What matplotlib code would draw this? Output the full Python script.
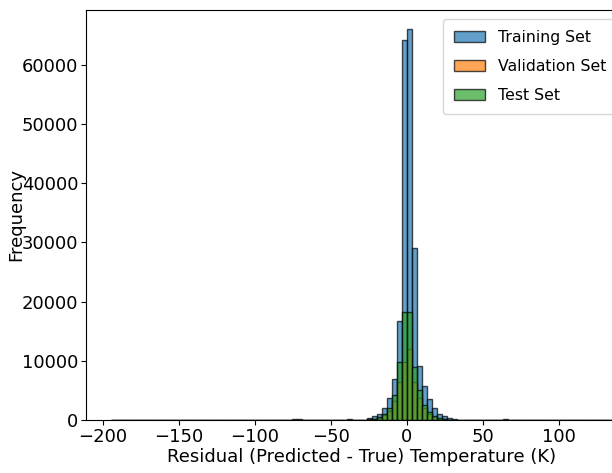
import numpy as np
import matplotlib
matplotlib.use("Agg")
from matplotlib import pyplot as plt

plt.rcParams['font.family'] = ['DejaVu Sans']

# histogram bins (100 bins spanning the residual range)
bin_edges = np.linspace(-194.5, 135.5, 101)
zero_bin = 59  # bin holding 0.2 .. 3.5 K

# counts of the central bins, offsets relative to zero_bin
core_offsets = np.arange(-8, 9)
train_core = [300, 600, 1100, 2000, 3800, 7000, 16700, 64300, 66000,
              29000, 9200, 5800, 3600, 2000, 1100, 600, 300]
val_core = [80, 200, 400, 800, 1600, 3200, 6500, 9800, 12000,
            6500, 3800, 2000, 1000, 500, 250, 120, 60]
test_core = [100, 250, 500, 1000, 2000, 4200, 9800, 18300, 18300,
             9000, 5000, 2600, 1400, 700, 350, 180, 80]

# a few sparse outliers in the tails (residual K, count)
tail_x = [-190, -75, -70, -61, -55, -45, -38, 30, 38, 65, 120]
train_tail = [20, 90, 110, 70, 60, 80, 120, 150, 60, 90, 20]
val_tail = [0, 20, 20, 10, 10, 20, 30, 40, 10, 20, 0]
test_tail = [0, 20, 30, 10, 10, 20, 30, 40, 20, 20, 0]

x_ticks = [-200, -150, -100, -50, 0, 50, 100]


def full_counts(core, tail):
    counts = np.zeros(len(bin_edges) - 1)
    counts[zero_bin + core_offsets] = core
    idx = np.digitize(tail_x, bin_edges) - 1
    np.add.at(counts, idx, tail)
    return counts


centers = 0.5 * (bin_edges[:-1] + bin_edges[1:])

fig = plt.figure(figsize=(6.12, 4.73), dpi=100)
ax = fig.add_axes([0.1405, 0.112, 0.902, 0.867])

ax.hist(centers, bins=bin_edges, weights=full_counts(train_core, train_tail),
        alpha=0.7, edgecolor='black', label='Training Set')
ax.hist(centers, bins=bin_edges, weights=full_counts(val_core, val_tail),
        alpha=0.7, edgecolor='black', label='Validation Set')
ax.hist(centers, bins=bin_edges, weights=full_counts(test_core, test_tail),
        alpha=0.7, edgecolor='black', label='Test Set')

ax.set_xticks(x_ticks)
ax.set_xlabel('Residual (Predicted - True) Temperature (K)', fontsize=13, labelpad=2)
ax.set_ylabel('Frequency', fontsize=13)
ax.yaxis.set_label_coords(-0.11, 0.5)
ax.tick_params(labelsize=13, pad=2)
ax.legend(fontsize=11.3, loc='upper right', bbox_to_anchor=(1.008, 0.96),
          bbox_transform=fig.transFigure, borderaxespad=0, borderpad=0.7,
          handlelength=2.0, handletextpad=0.8, labelspacing=0.9)

fig.savefig('out.png', dpi=100)
